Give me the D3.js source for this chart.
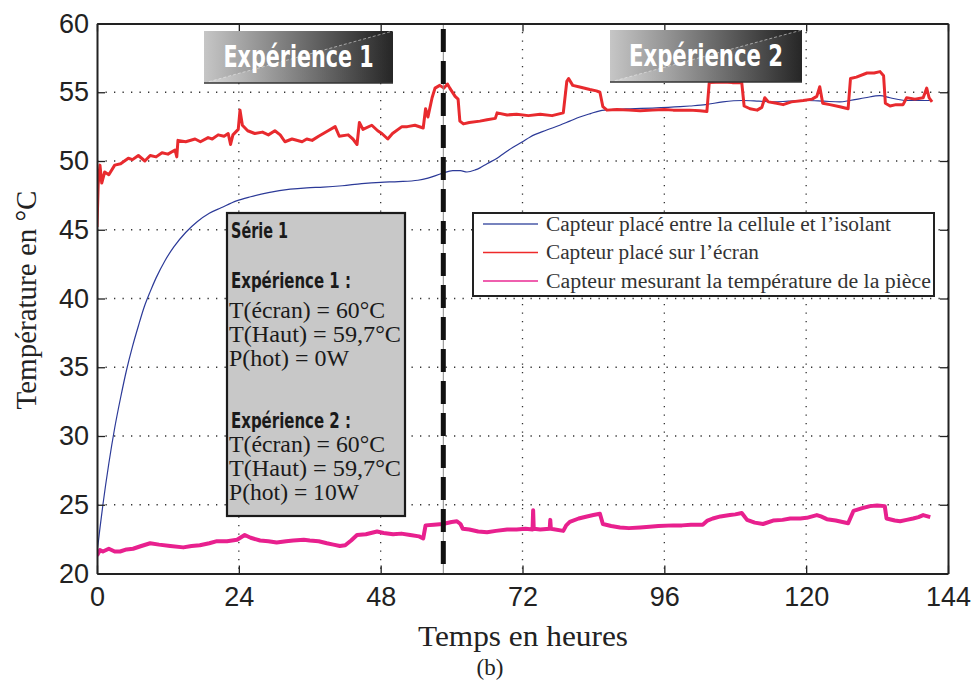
<!DOCTYPE html>
<html>
<head>
<meta charset="utf-8">
<script src="https://cdn.jsdelivr.net/npm/d3@7"></script>
<style>
  html, body { margin: 0; padding: 0; background: #fff; }
  svg { display: block; }
</style>
</head>
<body>
<svg id="chart" width="971" height="688"></svg>
<script>
// Time axis (hours) and temperature axis (°C)
const xTicks = [0, 24, 48, 72, 96, 120, 144];
const yTicks = [20, 25, 30, 35, 40, 45, 50, 55, 60];
const changeoverHour = 58.6;

// Sensor placed between the cell and the insulation
const isolantHours = [0,0.5,1,2,3,4,5,6,7,8,9,10,11.5,13,15,17,19,21,23.6,26,29,32.7,35.5,38.3,41.5,44.8,48,51,54.3,56,58.4,60.2,61.5,62.6,64,64.8,66,67.7,69,70.4,72,73.3,76.1,78.3,80,81.7,83.5,85.1,87.5,90.2,94,98.7,100.3,103,105.9,109.3,112,114.4,117,120.1,123,125.7,127.4,130,132.5,134.2,137,139,141];
const isolantTemp  = [21.5,23.3,25.0,28.0,30.6,32.8,34.8,36.5,38.0,39.4,40.5,41.5,42.75,43.75,44.8,45.6,46.2,46.6,47.1,47.4,47.7,47.95,48.05,48.1,48.2,48.35,48.45,48.5,48.6,48.75,49.1,49.3,49.3,49.2,49.35,49.5,49.8,50.2,50.6,51.0,51.4,51.75,52.25,52.6,52.9,53.2,53.45,53.65,53.75,53.8,53.85,53.95,54.0,54.1,54.3,54.4,54.35,54.3,54.35,54.4,54.35,54.3,54.4,54.6,54.75,54.6,54.4,54.4,54.4];

// Sensor placed on the screen
const ecranHours = [0,0.2,0.5,0.8,1.3,2,3,4,5.3,6,7,8.1,9,10,11,12,13.2,13.5,13.7,15,16.6,17.5,18.8,19.5,20.5,21.5,22.2,22.6,23,23.9,24.2,24.6,25.5,26.7,28,29,30.1,31,31.8,33,34.7,35.5,36.4,37.5,39.1,40.3,41,42.5,43.3,44,44.4,45,46.5,47.5,48.2,49.2,50,51.6,52.5,53.8,55.2,55.6,56,56.7,57.2,58,58.7,59.3,59.7,60.6,61.1,61.4,62,63,64.8,66,67.4,67.7,69.4,71,73,75,77,78.9,79.5,79.8,80.5,81.5,83.4,84.5,85.1,85.6,86.3,88,90,91.9,94,96,97.5,99,100.3,102,103.2,103.6,105.9,107.5,109.1,109.5,110.5,111.7,112.5,113,113.6,115,116.1,117.5,119.5,121,121.8,122.3,122.8,124,125.7,127.1,127.5,128.5,130.3,131.5,132.5,133.1,133.4,134.2,135.2,136.4,137,138.4,139.8,140.4,140.8,141.3];
const ecranTemp  = [45.2,48.3,49.7,48.4,49.2,49.0,49.7,49.8,50.2,50.1,50.4,50.0,50.4,50.3,50.6,50.5,50.8,50.3,51.5,51.4,51.6,51.4,51.7,51.6,51.9,51.8,52.0,51.2,51.9,52.3,53.7,52.6,52.2,52.0,52.1,51.9,52.2,51.9,51.4,51.6,51.4,51.6,51.5,51.8,52.2,52.5,51.8,51.9,51.6,51.2,52.8,52.3,52.6,52.2,52.0,51.6,52.0,52.5,52.5,52.6,52.4,53.8,53.2,54.6,55.3,55.5,55.3,55.6,55.3,54.7,54.5,52.9,52.7,52.8,52.9,53.0,53.1,53.5,53.35,53.4,53.3,53.4,53.3,53.5,55.8,56.0,55.5,55.4,55.2,55.1,55.0,53.95,53.7,53.75,53.7,53.65,53.7,53.75,53.7,53.7,53.7,53.65,53.6,55.7,55.75,55.7,55.7,54.0,53.8,53.7,53.9,54.6,54.3,54.2,54.1,54.3,54.4,54.5,54.7,55.4,54.2,54.1,53.95,53.8,56.0,56.1,56.4,56.4,56.5,56.2,54.2,54.0,54.1,54.1,54.6,54.5,54.6,55.3,54.6,54.3];

// Sensor measuring the room temperature
const pieceHours = [0,0.5,1,2,3,3.9,5,6.1,7.5,9,10.5,12.4,14.6,16,17.4,19,20.3,22,23.7,25,26,27.6,29,30.4,32,33.2,35,36,37.5,38.9,40,41.1,42,43,44,45.5,47.4,48.5,50.1,51.5,53,54.5,55.2,55.6,57,58.5,60,60.9,61.5,61.9,63,64.5,66,67.5,69.4,71,72.5,73.7,73.8,73.9,75,76.6,76.7,76.8,78.9,79.4,80,81.5,82.9,84,85.1,85.6,87,88.5,90,91.9,93.5,95,97.5,99,100.5,102.5,103.3,104.2,105.5,107.1,108,109.1,110,111.3,112.7,114.4,116,117.3,119,120.1,121.8,122.5,123.5,125,127.1,128,129.5,130.8,132,133.3,133.6,135,135.9,137,138.1,139,139.8,141];
const pieceTemp  = [21.3,21.7,21.6,21.8,21.6,21.6,21.75,21.8,22.0,22.2,22.1,22.0,21.9,22.0,22.05,22.2,22.35,22.35,22.45,22.8,22.6,22.4,22.35,22.25,22.35,22.4,22.45,22.4,22.35,22.2,22.1,22.0,22.05,22.4,22.8,22.85,23.05,22.95,22.85,22.9,22.8,22.7,22.55,23.5,23.55,23.6,23.75,23.8,23.6,23.25,23.2,23.05,23.0,23.1,23.2,23.2,23.25,23.2,24.6,23.25,23.2,23.25,23.9,23.25,23.1,23.5,23.75,24.0,24.15,24.25,24.35,23.6,23.45,23.35,23.3,23.35,23.4,23.45,23.5,23.5,23.55,23.55,23.85,24.0,24.15,24.25,24.3,24.4,23.9,23.7,23.6,23.85,23.9,24.0,24.0,24.05,24.25,24.15,23.95,23.85,23.65,24.55,24.75,24.9,24.95,24.9,24.0,23.85,23.8,23.9,24.0,24.1,24.25,24.1];

const legendLabels = [
  "Capteur placé entre la cellule et l’isolant",
  "Capteur placé sur l’écran",
  "Capteur mesurant la température de la pièce"
];
const legendWidths = [345, 213, 385];
const seriesColors = ["#2c3a98", "#e82a2e", "#e8208e"];
const legendColors = ["#4a5aa8", "#ee2a2a", "#ef5fae"];

const infoLines = [
  { text: "Série 1", bold: true, y: 238, w: 57 },
  { text: "Expérience 1 :", bold: true, y: 288, w: 120 },
  { text: "T(écran) = 60°C", bold: false, y: 318, w: 156 },
  { text: "T(Haut) = 59,7°C", bold: false, y: 342, w: 172 },
  { text: "P(hot) = 0W", bold: false, y: 366, w: 120 },
  { text: "Expérience 2 :", bold: true, y: 428, w: 120 },
  { text: "T(écran) = 60°C", bold: false, y: 452, w: 156 },
  { text: "T(Haut) = 59,7°C", bold: false, y: 476, w: 172 },
  { text: "P(hot) = 10W", bold: false, y: 500, w: 130 }
];

const banners = [
  { label: "Expérience 1", x0: 204, x1: 393, y0: 31, y1: 83, w: 150 },
  { label: "Expérience 2", x0: 610, x1: 802, y0: 30, y1: 82, w: 154 }
];

const svg = d3.select("#chart");
const plotLeft = 97, plotRight = 948, plotTop = 23.5, plotBottom = 573.5;
const x = d3.scaleLinear().domain([0, 144]).range([plotLeft, plotRight]);
const y = d3.scaleLinear().domain([20, 60]).range([plotBottom, plotTop]);

const sansFont = "'Liberation Sans', Arial, sans-serif";
const serifFont = "'Liberation Serif', 'Times New Roman', serif";
const narrowFont = "'DejaVu Sans Condensed', 'DejaVu Sans', sans-serif";

// gradients for the experiment banners
const defs = svg.append("defs");
function grad(id, c0, c1) {
  const g = defs.append("linearGradient").attr("id", id)
    .attr("x1", "0%").attr("x2", "100%").attr("y1", "0%").attr("y2", "0%");
  g.append("stop").attr("offset", "0%").attr("stop-color", c0);
  g.append("stop").attr("offset", "100%").attr("stop-color", c1);
}
grad("bannerTop", "#c6c6c6", "#1c1c1c");
grad("bannerLow", "#eaeaea", "#2e2e2e");
defs.append("clipPath").attr("id", "plotClip")
  .append("rect").attr("x", plotLeft).attr("y", plotTop)
  .attr("width", plotRight - plotLeft).attr("height", plotBottom - plotTop);

// dotted grid
const gridX = xTicks.slice(1, -1), gridY = yTicks.slice(1, -1);
const grid = svg.append("g").attr("stroke", "#333").attr("stroke-width", 1.3)
  .attr("stroke-dasharray", "1.3,7.2");
grid.selectAll("line.gx").data(gridX).join("line").attr("class", "gx")
  .attr("x1", d => x(d)).attr("x2", d => x(d)).attr("y1", plotTop).attr("y2", plotBottom);
grid.selectAll("line.gy").data(gridY).join("line").attr("class", "gy")
  .attr("x1", plotLeft).attr("x2", plotRight).attr("y1", d => y(d)).attr("y2", d => y(d));

// data lines
const plot = svg.append("g").attr("clip-path", "url(#plotClip)");
const zip = (a, b) => a.map((v, i) => [v, b[i]]);
const straight = d3.line().x(d => x(d[0])).y(d => y(d[1]));
const smooth = d3.line().x(d => x(d[0])).y(d => y(d[1])).curve(d3.curveMonotoneX);
plot.append("path").datum(zip(pieceHours, pieceTemp))
  .attr("d", straight).attr("fill", "none").attr("stroke", seriesColors[2])
  .attr("stroke-width", 4).attr("stroke-linejoin", "round");
plot.append("path").datum(zip(isolantHours, isolantTemp))
  .attr("d", smooth).attr("fill", "none")
  .attr("stroke", seriesColors[0]).attr("stroke-width", 1.2);
plot.append("path").datum(zip(ecranHours, ecranTemp))
  .attr("d", straight).attr("fill", "none").attr("stroke", seriesColors[1])
  .attr("stroke-width", 3).attr("stroke-linejoin", "round");

// changeover marker between the two experiments
svg.append("line").attr("x1", x(changeoverHour)).attr("x2", x(changeoverHour))
  .attr("y1", plotTop).attr("y2", plotBottom).attr("stroke", "#888").attr("stroke-width", 1);
svg.append("line").attr("x1", x(changeoverHour)).attr("x2", x(changeoverHour))
  .attr("y1", plotTop).attr("y2", plotBottom).attr("stroke", "#111").attr("stroke-width", 5)
  .attr("stroke-dasharray", "23,9").attr("stroke-dashoffset", 26.5);

// axes: box with inward ticks on all four sides
function styleAxis(g) {
  g.select(".domain").attr("stroke", "#222").attr("stroke-width", 2);
  g.selectAll(".tick line").attr("stroke", "#222").attr("stroke-width", 1.3);
  g.selectAll(".tick text").attr("fill", "#222").attr("font-family", sansFont).attr("font-size", 27);
}
svg.append("g").attr("transform", `translate(0,${plotBottom})`)
  .call(d3.axisBottom(x).tickValues(xTicks).tickSizeInner(-8).tickSizeOuter(0).tickPadding(13))
  .call(styleAxis);
svg.append("g").attr("transform", `translate(0,${plotTop})`)
  .call(d3.axisTop(x).tickValues(xTicks).tickSizeInner(-8).tickSizeOuter(0).tickFormat(""))
  .call(styleAxis);
svg.append("g").attr("transform", `translate(${plotLeft},0)`)
  .call(d3.axisLeft(y).tickValues(yTicks).tickSizeInner(-8).tickSizeOuter(0).tickPadding(8))
  .call(styleAxis);
svg.append("g").attr("transform", `translate(${plotRight},0)`)
  .call(d3.axisRight(y).tickValues(yTicks).tickSizeInner(-8).tickSizeOuter(0).tickFormat(""))
  .call(styleAxis);

// experiment banners
banners.forEach(b => {
  const g = svg.append("g");
  g.append("rect").attr("x", b.x0).attr("y", b.y0)
    .attr("width", b.x1 - b.x0).attr("height", b.y1 - b.y0).attr("fill", "url(#bannerTop)");
  g.append("path")
    .attr("d", `M${b.x0},${b.y1}L${b.x1},${b.y0}L${b.x1},${b.y1}Z`)
    .attr("fill", "url(#bannerLow)").attr("opacity", 0.55);
  g.append("line").attr("x1", b.x0).attr("y1", b.y1).attr("x2", b.x1).attr("y2", b.y0)
    .attr("stroke", "#eee").attr("stroke-width", 0.8).attr("stroke-dasharray", "3,2").attr("opacity", 0.7);
  g.append("line").attr("x1", b.x0).attr("x2", b.x1).attr("y1", b.y1).attr("y2", b.y1)
    .attr("stroke", "#333").attr("stroke-width", 1.5);
  g.append("text").attr("x", (b.x0 + b.x1) / 2 - b.w / 2).attr("y", b.y1 - 16)
    .attr("fill", "#fff")
    .attr("font-family", narrowFont).attr("font-weight", "bold").attr("font-size", 30)
    .attr("textLength", b.w).attr("lengthAdjust", "spacingAndGlyphs")
    .text(b.label);
});

// parameter box
svg.append("rect").attr("x", 227).attr("y", 213).attr("width", 178).attr("height", 303)
  .attr("fill", "#c8c8c8").attr("stroke", "#1a1a1a").attr("stroke-width", 2.2);
svg.append("g").selectAll("text").data(infoLines).join("text")
  .attr("x", d => d.bold ? 231 : 229)
  .attr("y", d => d.y)
  .attr("fill", "#1a1a1a")
  .attr("font-family", d => d.bold ? narrowFont : serifFont)
  .attr("font-weight", d => d.bold ? "bold" : "normal")
  .attr("font-size", d => d.bold ? 22 : 23)
  .attr("textLength", d => d.w).attr("lengthAdjust", "spacingAndGlyphs")
  .text(d => d.text);

// legend
const lg = svg.append("g");
lg.append("rect").attr("x", 473).attr("y", 213).attr("width", 461).attr("height", 83)
  .attr("fill", "#fff").attr("stroke", "#222").attr("stroke-width", 2);
const legendRows = lg.selectAll("g.row").data(legendLabels).join("g").attr("class", "row")
  .attr("transform", (d, i) => `translate(0,${224 + i * 28.5})`);
legendRows.append("line").attr("x1", 483).attr("x2", 538)
  .attr("stroke", (d, i) => legendColors[i]).attr("stroke-width", (d, i) => i === 2 ? 2 : 1.3);
legendRows.append("text").attr("x", 546).attr("y", 6.5)
  .attr("fill", "#333").attr("font-family", serifFont).attr("font-size", 20)
  .attr("textLength", (d, i) => legendWidths[i]).attr("lengthAdjust", "spacingAndGlyphs")
  .text(d => d);

// axis titles
svg.append("text").attr("x", 523 - 105).attr("y", 646)
  .attr("fill", "#222").attr("font-family", serifFont).attr("font-size", 29)
  .attr("textLength", 210).attr("lengthAdjust", "spacingAndGlyphs")
  .text("Temps en heures");
svg.append("text").attr("transform", "translate(36,300) rotate(-90)")
  .attr("text-anchor", "middle").attr("fill", "#222")
  .attr("font-family", serifFont).attr("font-size", 29)
  .text("Température en °C");
svg.append("text").attr("x", 490).attr("y", 675).attr("text-anchor", "middle")
  .attr("fill", "#222").attr("font-family", serifFont).attr("font-size", 23)
  .text("(b)");
</script>
</body>
</html>
